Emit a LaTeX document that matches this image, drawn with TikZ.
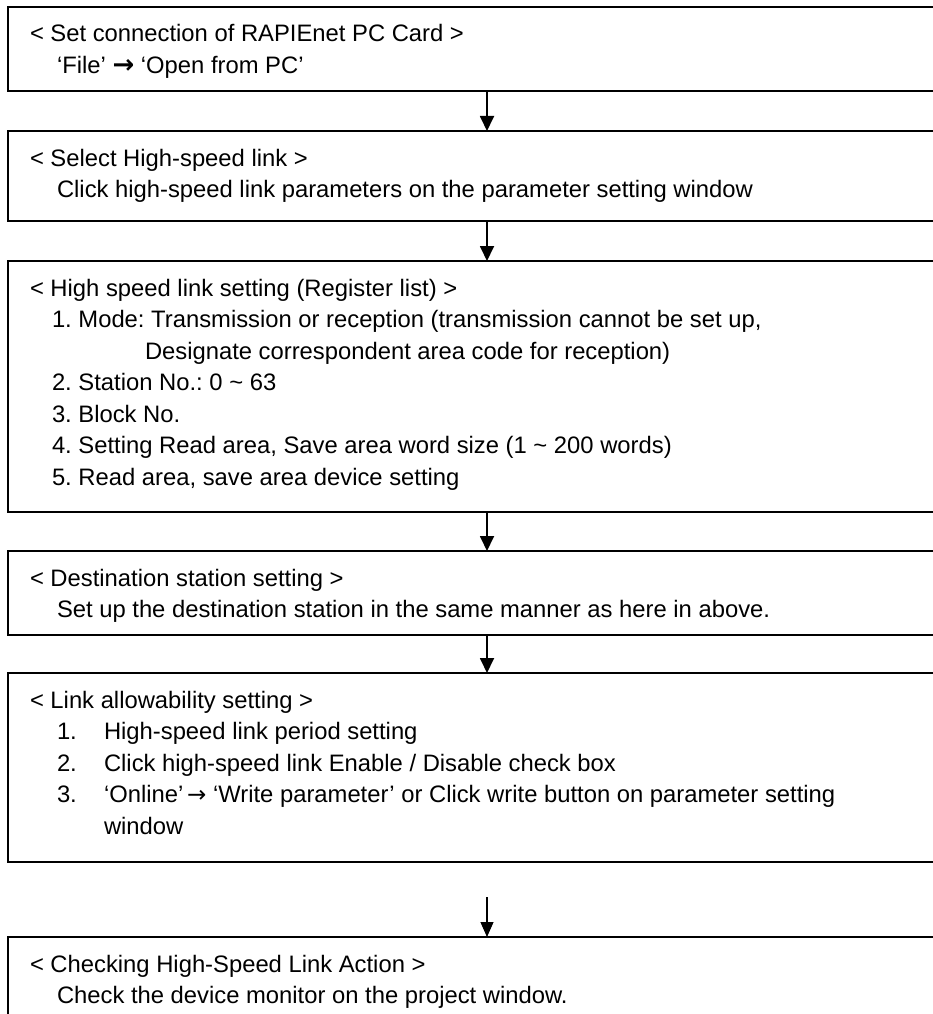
\documentclass[tikz,border=0pt]{standalone}
\usepackage{fontspec}
\setmainfont{Liberation Sans}
\newfontfamily\arrowfont{DejaVu Sans}
\usetikzlibrary{arrows.meta}
\frenchspacing
\begin{document}
\begin{tikzpicture}[x=1pt,y=-1pt,
  box/.style={draw=black,line width=1.8pt,rectangle,anchor=north west,minimum width=945pt,inner sep=0pt,outer sep=0pt},
  txt/.style={anchor=base west,inner sep=0pt,outer sep=0pt,font=\fontsize{23.8}{28}\selectfont},
  arr/.style={line width=1.8pt,-{Triangle[width=14pt,length=15pt]}},
  arrthin/.style={line width=1.1pt,-{Triangle[width=13pt,length=15pt]}}]
\useasboundingbox (0,0) rectangle (933,1014);
\clip (0,0) rectangle (933,1014);
\fill[white] (0,0) rectangle (933,1014);
% boxes
\node[box,minimum height=84pt]  (b1) at (8,7) {};
\node[box,minimum height=90pt]  (b2) at (8,131) {};
\node[box,minimum height=251pt] (b3) at (8,261) {};
\node[box,minimum height=84pt]  (b4) at (8,551) {};
\node[box,minimum height=189pt] (b5) at (8,673) {};
\node[box,minimum height=130pt] (b6) at (8,937) {};
% connectors
\coordinate (ax) at (487,0);
\coordinate (a5) at (487,897);
\draw[arr] (b1.south -| ax) -- (b2.north -| ax);
\draw[arr] (b2.south -| ax) -- (b3.north -| ax);
\draw[arr] (b3.south -| ax) -- (b4.north -| ax);
\draw[arr] (b4.south -| ax) -- (b5.north -| ax);
\draw[arrthin] (a5) -- (b6.north -| ax);
% box 1
\node[txt] (t1a) at (30,42) {< Set connection of RAPIEnet PC Card >};
\node[txt] (t1b) at (57,73.5) {‘File’ {\arrowfont\bfseries\fontsize{26}{28}\selectfont →} ‘Open from PC’};
% box 2
\node[txt] (t2a) at (30,166) {< Select High-speed link >};
\node[txt] (t2b) at (57,197.5) {Click high-speed link parameters on the parameter setting window};
% box 3
\node[txt] (t3a) at (30,296) {< High speed link setting (Register list) >};
\node[txt] (t3b) at (52,327.5) {1. Mode: Transmission or reception (transmission cannot be set up,};
\node[txt] (t3c) at (145,359) {Designate correspondent area code for reception)};
\node[txt] (t3d) at (52,390.5) {2. Station No.: 0 \textasciitilde{} 63};
\node[txt] (t3e) at (52,422) {3. Block No.};
\node[txt] (t3f) at (52,453.5) {4. Setting Read area, Save area word size (1 \textasciitilde{} 200 words)};
\node[txt] (t3g) at (52,485) {5. Read area, save area device setting};
% box 4
\node[txt] (t4a) at (30,586) {< Destination station setting >};
\node[txt] (t4b) at (57,617.5) {Set up the destination station in the same manner as here in above.};
% box 5
\node[txt] (t5a) at (30,708) {< Link allowability setting >};
\node[txt] (t5b) at (57,739.5) {1.};
\node[txt] (t5c) at (104,739.5) {High-speed link period setting};
\node[txt] (t5d) at (57,771) {2.};
\node[txt] (t5e) at (104,771) {Click high-speed link Enable / Disable check box};
\node[txt] (t5f) at (57,802.5) {3.};
\node[txt] (t5g) at (104,802.5) {‘Online’{\arrowfont\fontsize{23}{28}\selectfont\,→} ‘Write parameter’ or Click write button on parameter setting};
\node[txt] (t5h) at (104,834) {window};
% box 6
\node[txt] (t6a) at (30,972) {< Checking High-Speed Link Action >};
\node[txt] (t6b) at (57,1003.5) {Check the device monitor on the project window.};
\end{tikzpicture}
\end{document}
